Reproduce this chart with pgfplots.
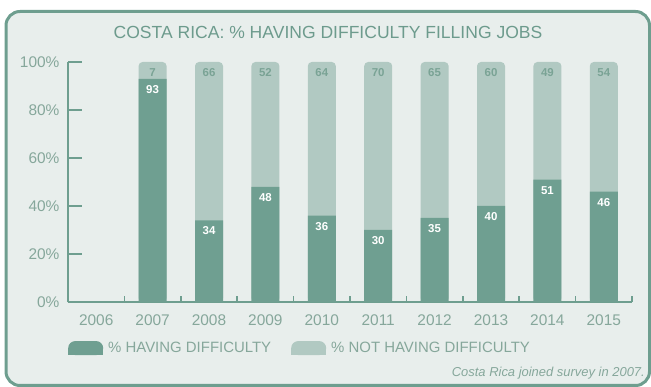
\documentclass[border=0pt]{standalone}
\usepackage{pgfplots}
\pgfplotsset{compat=1.18}
\usepackage{pgfplotstable}
\usepackage{fontspec}
\setmainfont{Liberation Sans}
\definecolor{darkbar}{HTML}{6F9F91}
\definecolor{lightbar}{HTML}{B1C9C2}
\definecolor{panel}{HTML}{E8EEEC}
\definecolor{framec}{HTML}{6E9E8F}
\definecolor{txt}{HTML}{86A79B}
\definecolor{titlec}{HTML}{6D9B8D}
\definecolor{lightlab}{HTML}{7AA395}

\pgfplotstableread{
idx year have nothave
1 2007 93 7
2 2008 34 66
3 2009 48 52
4 2010 36 64
5 2011 30 70
6 2012 35 65
7 2013 40 60
8 2014 51 49
9 2015 46 54
}\datatable

\begin{document}
\begin{tikzpicture}
\useasboundingbox (0bp,0bp) rectangle (651bp,387bp);
\begin{scope}
\clip (0bp,0bp) rectangle (651bp,387bp);
\draw[framec, line width=3bp, fill=panel, rounded corners=14bp] (6bp,1.5bp) rectangle (649.5bp,375.5bp);
\end{scope}
\node[titlec, font=\fontsize{17.6}{20}\selectfont] at (328bp,355bp) {COSTA RICA: \% HAVING DIFFICULTY FILLING JOBS};
\node[txt, font=\itshape\fontsize{13}{15}\selectfont, anchor=base east, inner sep=0pt] at (645bp,11bp) {Costa Rica joined survey in 2007.};
\begin{axis}[
  at={(68bp,85bp)}, anchor=south west,
  scale only axis, width=564bp, height=240bp,
  xmin=-0.5, xmax=9.5, ymin=0, ymax=100,
  axis lines=left,
  axis line style={framec, line width=1.5bp, -},
  tick style={framec, line width=1.5bp},
  tick align=inside,
  major tick length=14bp,
  minor tick length=6bp,
  xtick={0,...,9},
  xticklabels={2006,2007,2008,2009,2010,2011,2012,2013,2014,2015},
  major x tick style={draw=none},
  minor xtick={-0.5,0.5,...,9.5},
  ytick={0,20,...,100},
  yticklabel={\pgfmathprintnumber{\tick}\%},
  /pgf/number format/assume math mode=true,
  ticklabel style={txt, font=\fontsize{15.5}{18}\selectfont},
  yticklabel style={xshift=-5bp},
  xticklabel style={yshift=-9bp},
  legend image code/.code={%
    \fill[#1, rounded corners=7bp] (0bp,-7bp) rectangle (35bp,7bp);
    \fill[#1] (0bp,-7bp) rectangle (35bp,0bp);},
  legend style={at={(rel axis cs:0,-0.192)}, anchor=west, draw=none, fill=none,
    inner sep=0pt, legend columns=2,
    font=\fontsize{15}{18}\selectfont, text=txt,
    /tikz/every odd column/.append style={column sep=3bp},
    /tikz/every even column/.append style={column sep=18bp}},
]
\addlegendimage{fill=darkbar, draw=none}
\addlegendentry{\% HAVING DIFFICULTY}
\addlegendimage{fill=lightbar, draw=none}
\addlegendentry{\% NOT HAVING DIFFICULTY}

\addplot[ybar, bar width=28bp, bar shift=0pt, fill=lightbar, draw=none,
  rounded corners=4bp, forget plot,
  nodes near coords, point meta=explicit,
  every node near coord/.append style={anchor=north, yshift=-3bp, text=lightlab,
    font=\bfseries\fontsize{11.5}{13}\selectfont}]
  table[x=idx, y expr=\thisrow{have}+\thisrow{nothave}, meta=nothave] {\datatable};
\addplot[ybar, bar width=28bp, bar shift=0pt, fill=darkbar, draw=none, forget plot,
  nodes near coords, point meta=explicit,
  every node near coord/.append style={anchor=north, yshift=-3bp, text=white,
    font=\bfseries\fontsize{11.5}{13}\selectfont}]
  table[x=idx, y=have, meta=have] {\datatable};
\end{axis}
\end{tikzpicture}
\end{document}
